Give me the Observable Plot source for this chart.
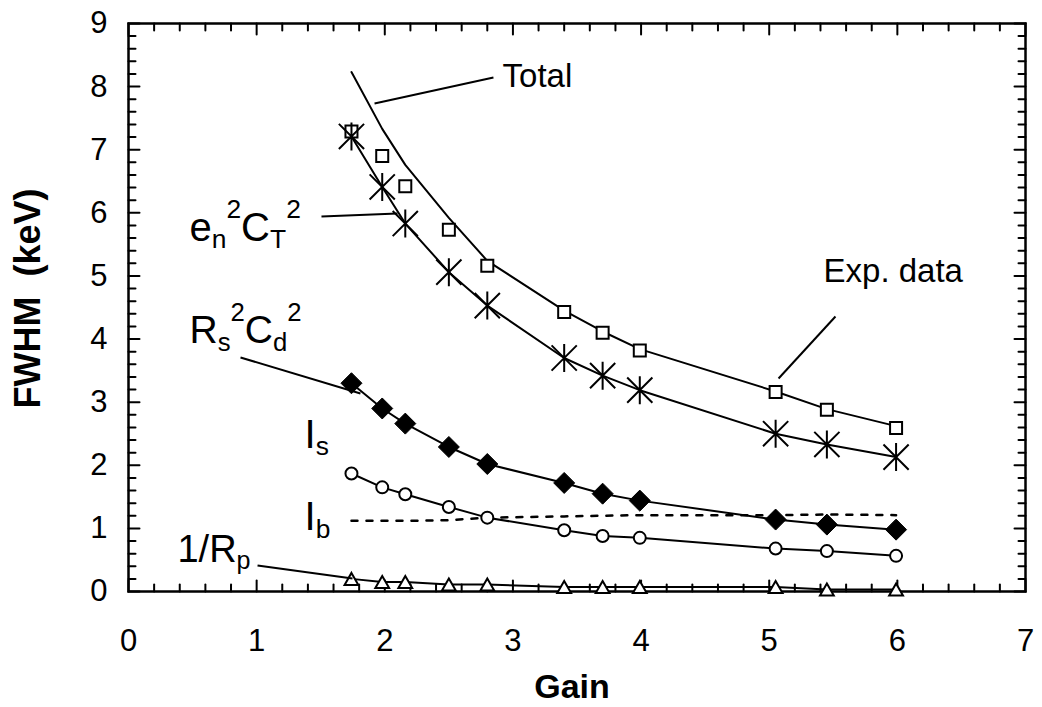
<!DOCTYPE html>
<html><head><meta charset="utf-8">
<script src="https://cdn.jsdelivr.net/npm/d3@7"></script>
<script src="https://cdn.jsdelivr.net/npm/@observablehq/plot@0.6"></script>
<style>html,body{margin:0;padding:0;background:#fff;} svg{display:block}</style>
</head><body><div id="chart"></div>
<script>
// ---- data ----
const gain       = [1.74, 1.98, 2.16, 2.50, 2.80, 3.40, 3.70, 3.99, 5.05, 5.45, 5.99];
const expData    = [7.29, 6.90, 6.42, 5.73, 5.16, 4.43, 4.10, 3.82, 3.16, 2.88, 2.59];
const totalCurve = [8.23, 7.33, 6.76, 5.92, 5.24, 4.45, 4.12, 3.84, 3.17, 2.89, 2.62];
const enCT       = [7.21, 6.41, 5.83, 5.06, 4.53, 3.70, 3.42, 3.19, 2.50, 2.33, 2.13];
const rsCd       = [3.30, 2.90, 2.66, 2.29, 2.02, 1.72, 1.55, 1.44, 1.14, 1.06, 0.98];
const isNoise    = [1.87, 1.65, 1.54, 1.34, 1.17, 0.97, 0.88, 0.85, 0.68, 0.64, 0.565];
const ibNoise    = [1.12, 1.12, 1.12, 1.13, 1.17, 1.19, 1.20, 1.21, 1.21, 1.22, 1.21];
const rpNoise    = [0.20, 0.15, 0.15, 0.11, 0.11, 0.07, 0.07, 0.07, 0.07, 0.03, 0.03];

const xTicks = [0, 1, 2, 3, 4, 5, 6, 7];
const yTicks = [0, 1, 2, 3, 4, 5, 6, 7, 8, 9];
const xTitle = "Gain";
const yTitle = "FWHM\u00a0 (keV)";

// annotation labels (data coordinates) and leader lines
const annLabels = ["Total", "Exp. data", "e_{n}^{2}C_{T}^{2}", "R_{s}^{2}C_{d}^{2}", "I_{s}", "I_{b}", "1/R_{p}"];
const annX      = [2.919, 5.424, 0.476, 0.476, 1.374, 1.374, 0.382];
const annY      = [7.99, 4.90, 5.55, 3.93, 2.28, 0.967, 0.46];
const leaderX1  = [2.848, 1.506, 5.517, 0.874, 1.007];
const leaderY1  = [8.145, 5.942, 4.357, 3.708, 0.412];
const leaderX2  = [1.920, 2.099, 5.073, 1.810, 1.748];
const leaderY2  = [7.733, 5.990, 3.375, 3.137, 0.206];

// ---- build tables ----
const rows = (ys) => gain.map((g, i) => ({x: g, y: ys[i]}));
const annFont = [33, 33, 40, 39, 40, 40, 38];
const annotations = annLabels.map((t, i) => ({text: t, x: annX[i], y: annY[i], size: annFont[i]}));
const leaders = leaderX1.map((_, i) => ({x1: leaderX1[i], y1: leaderY1[i], x2: leaderX2[i], y2: leaderY2[i]}));
const xMinor = d3.range(0, 7.0001, 0.2).map(v => +v.toFixed(1)).filter(v => Math.abs(v - Math.round(v)) > 1e-6);
const yMinor = d3.range(0, 9.0001, 0.2).map(v => +v.toFixed(1)).filter(v => Math.abs(v - Math.round(v)) > 1e-6);

// ---- custom symbols ----
const R = (size) => Math.sqrt(size / Math.PI);
const starSym = {draw(c, s) { const r = R(s), d = r * 0.9;
  c.moveTo(0, -r); c.lineTo(0, r); c.moveTo(-d, -d); c.lineTo(d, d); c.moveTo(-d, d); c.lineTo(d, -d); }};
const squareSym = {draw(c, s) { const r = R(s); c.moveTo(-r, -r); c.lineTo(r, -r); c.lineTo(r, r); c.lineTo(-r, r); c.closePath(); }};
const diamondSym = {draw(c, s) { const r = R(s); c.moveTo(0, -r); c.lineTo(r, 0); c.lineTo(0, r); c.lineTo(-r, 0); c.closePath(); }};
const triSym = {draw(c, s) { const r = R(s); c.moveTo(0, -r); c.lineTo(r * 1.15, r); c.lineTo(-r * 1.15, r); c.closePath(); }};
const tickShape = {draw(c, l) { c.moveTo(0, 0); c.lineTo(0, -l); }};

const font = "'Liberation Sans', Arial, sans-serif";
const tickMarks = (vals, len, axis) => {
  const common = {length: len, anchor: "start", shape: tickShape, stroke: "black", strokeWidth: 2};
  if (axis === "x") return [
    Plot.vector(vals, {...common, x: d => d, y: 0, rotate: 0}),
    Plot.vector(vals, {...common, x: d => d, y: 9, rotate: 180})
  ];
  return [
    Plot.vector(vals, {...common, y: d => d, x: 0, rotate: 90}),
    Plot.vector(vals, {...common, y: d => d, x: 7, rotate: 270})
  ];
};

const chart = Plot.plot({
  width: 1042, height: 707,
  marginLeft: 128, marginRight: 17, marginTop: 23, marginBottom: 116,
  style: {fontFamily: font, fontSize: "31px", color: "black", background: "white"},
  x: {domain: [0, 7]},
  y: {domain: [0, 9]},
  marks: [
    Plot.axisX({ticks: xTicks, tickSize: 0, tickPadding: 37, fontSize: 31, label: null, tickFormat: d => String(d)}),
    Plot.axisY({ticks: yTicks, tickSize: 0, tickPadding: 21, fontSize: 31, label: null, tickFormat: d => String(d)}),
    ...tickMarks(xMinor, 7, "x"), ...tickMarks(xTicks, 11, "x"),
    ...tickMarks(yMinor, 7, "y"), ...tickMarks(yTicks, 11, "y"),
    Plot.frame({stroke: "black", strokeWidth: 2.5}),
    // curves
    Plot.line(rows(totalCurve), {x: "x", y: "y", stroke: "black", strokeWidth: 2}),
    Plot.line(rows(enCT), {x: "x", y: "y", stroke: "black", strokeWidth: 2}),
    Plot.line(rows(rsCd), {x: "x", y: "y", stroke: "black", strokeWidth: 2}),
    Plot.line(rows(isNoise), {x: "x", y: "y", stroke: "black", strokeWidth: 2}),
    Plot.line(rows(ibNoise), {x: "x", y: "y", stroke: "black", strokeWidth: 2.5, strokeDasharray: "6,9"}),
    Plot.line(rows(rpNoise), {x: "x", y: "y", stroke: "black", strokeWidth: 2}),
    // markers
    Plot.dot(rows(expData), {x: "x", y: "y", symbol: squareSym, r: 6, fill: "white", stroke: "black", strokeWidth: 2}),
    Plot.dot(rows(enCT), {x: "x", y: "y", symbol: starSym, r: 14, fill: "none", stroke: "black", strokeWidth: 2}),
    Plot.dot(rows(rsCd), {x: "x", y: "y", symbol: diamondSym, r: 10.5, fill: "black", stroke: "black", strokeWidth: 1}),
    Plot.dot(rows(isNoise), {x: "x", y: "y", symbol: "circle", r: 6, fill: "white", stroke: "black", strokeWidth: 2}),
    Plot.dot(rows(rpNoise), {x: "x", y: "y", symbol: triSym, r: 6, fill: "white", stroke: "black", strokeWidth: 2}),
    // annotations
    Plot.link(leaders, {x1: "x1", y1: "y1", x2: "x2", y2: "y2", stroke: "black", strokeWidth: 2}),
    Plot.text(annotations, {x: "x", y: "y", text: "text", fontSize: "size", textAnchor: "start", lineAnchor: "bottom", fill: "black"}),
    // axis titles
    Plot.text([yTitle], {frameAnchor: "left", dx: -100, dy: -9, rotate: -90, fontSize: 36, fontWeight: "bold", textAnchor: "middle", lineAnchor: "middle", fill: "black"}),
    Plot.text([xTitle], {frameAnchor: "bottom", dx: -5, dy: 96, fontSize: 34, fontWeight: "bold", textAnchor: "middle", lineAnchor: "middle", fill: "black"})
  ]
});

// sub/superscript rendering for annotation labels
const NS = "http://www.w3.org/2000/svg";
chart.querySelectorAll("text").forEach(el => {
  const src = el.textContent;
  if (!/[_^]\{/.test(src)) return;
  const fs = parseFloat(el.getAttribute("font-size")) || 39;
  while (el.firstChild) el.removeChild(el.firstChild);
  let cur = 0;
  const re = /([_^])\{([^}]*)\}|([^_^]+)/g;
  let m;
  while ((m = re.exec(src))) {
    const t = document.createElementNS(NS, "tspan");
    let target = 0, txt;
    if (m[1]) {
      txt = m[2];
      target = m[1] === "_" ? 0.18 * fs : -0.58 * fs;
      t.setAttribute("font-size", (0.66 * fs).toFixed(1));
    } else {
      txt = m[3];
    }
    t.setAttribute("dy", (target - cur).toFixed(2));
    cur = target;
    t.textContent = txt;
    el.appendChild(t);
  }
});

document.getElementById("chart").appendChild(chart);
</script>
</body></html>
